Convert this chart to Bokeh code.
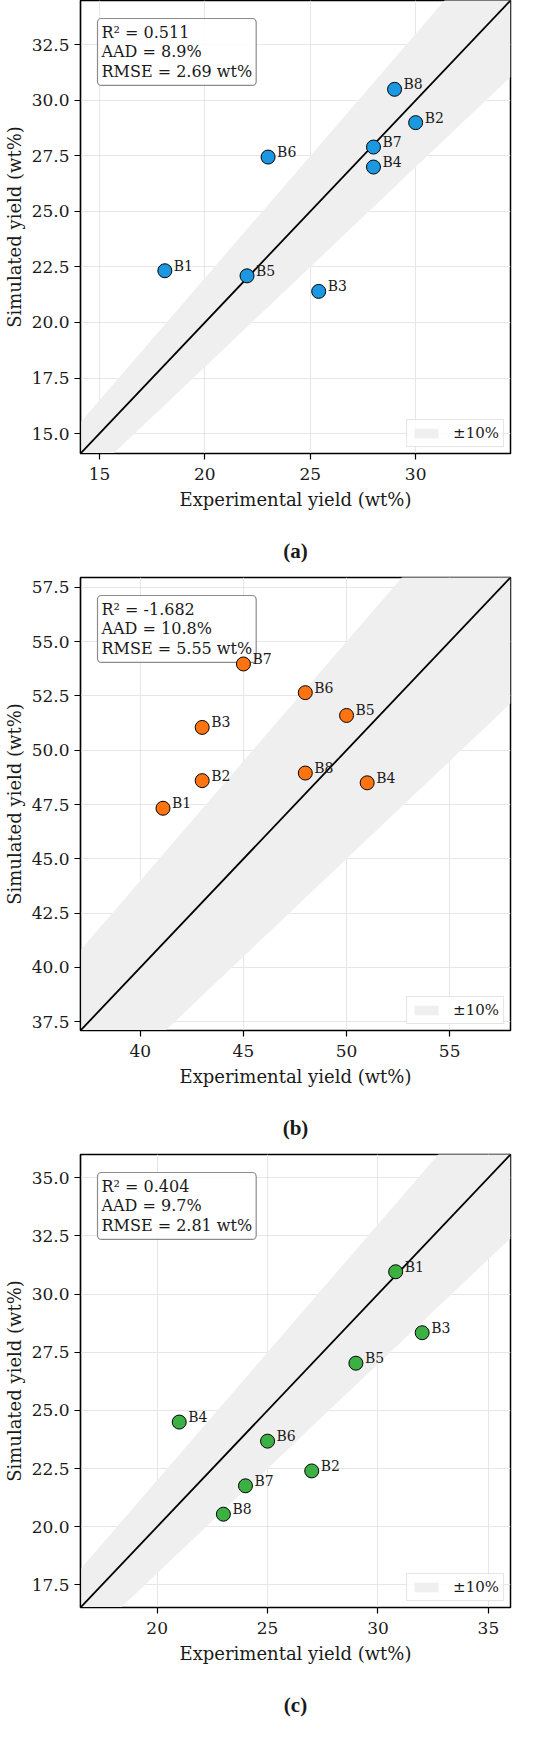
from bokeh.plotting import figure
from bokeh.models import (Range1d, FixedTicker, PrintfTickFormatter, Label, Legend,
                          LegendItem, LinearAxis, ColumnDataSource)
from bokeh.layouts import column
from bokeh.core.properties import value
from bokeh.embed import file_html
from bokeh.resources import INLINE

# ---------------- data ----------------
point_labels = ["B1", "B2", "B3", "B4", "B5", "B6", "B7", "B8"]

a_exp = [18.1, 30.0, 25.4, 28.0, 22.0, 23.0, 28.0, 29.0]
a_sim = [22.33, 29.0, 21.4, 27.0, 22.1, 27.45, 27.9, 30.5]
b_exp = [41.1, 43.0, 43.0, 51.0, 50.0, 48.0, 45.0, 48.0]
b_sim = [47.33, 48.6, 51.05, 48.5, 51.6, 52.65, 53.97, 48.95]
c_exp = [30.8, 27.0, 32.0, 21.0, 29.0, 25.0, 24.0, 23.0]
c_sim = [30.96, 22.4, 28.34, 24.5, 27.03, 23.68, 21.76, 20.54]

a_xticks = [15, 20, 25, 30]
a_yticks = [15.0, 17.5, 20.0, 22.5, 25.0, 27.5, 30.0, 32.5]
b_xticks = [40, 45, 50, 55]
b_yticks = [37.5, 40.0, 42.5, 45.0, 47.5, 50.0, 52.5, 55.0, 57.5]
c_xticks = [20, 25, 30, 35]
c_yticks = [17.5, 20.0, 22.5, 25.0, 27.5, 30.0, 32.5, 35.0]

a_stats = "R\u00b2 = 0.511\nAAD = 8.9%\nRMSE = 2.69 wt%"
b_stats = "R\u00b2 = -1.682\nAAD = 10.8%\nRMSE = 5.55 wt%"
c_stats = "R\u00b2 = 0.404\nAAD = 9.7%\nRMSE = 2.81 wt%"

band_frac = 0.10
band_label = "\u00b110%"
x_title = "Experimental yield (wt%)"
y_title = "Simulated yield (wt%)"

FONT = "DejaVu Serif"
FRAME_W = 430
FRAME_H = 453


def make_panel(exp, sim, color, rng, xticks, yticks, stats, caption, mbt, mbb):
    lo, hi = rng
    p = figure(frame_width=FRAME_W, frame_height=FRAME_H,
               x_range=Range1d(lo, hi), y_range=Range1d(lo, hi),
               output_backend="svg", toolbar_location=None,
               min_border_left=78, min_border_right=26,
               min_border_top=mbt, min_border_bottom=mbb)
    p.background_fill_color = "white"
    p.border_fill_color = "white"
    p.outline_line_color = "black"
    p.outline_line_width = 1.5

    # +-10% band and 1:1 line
    bx = [lo, hi]
    band = p.varea(x=bx, y1=[v * (1 - band_frac) for v in bx],
                   y2=[v * (1 + band_frac) for v in bx],
                   fill_color="#efefef", fill_alpha=1.0)
    p.line(bx, bx, line_color="black", line_width=1.8)

    src = ColumnDataSource(dict(x=exp, y=sim, t=point_labels))
    p.scatter("x", "y", source=src, size=14, fill_color=color,
              line_color="black", line_width=1)
    p.text("x", "y", text="t", source=src, x_offset=9, y_offset=-5,
           text_font=value(FONT), text_font_size="14px",
           text_color="#1a1a1a", text_baseline="alphabetic")

    # axes
    for ax, ticks, fmt in ((p.xaxis[0], xticks, "%d"), (p.yaxis[0], yticks, "%.1f")):
        ax.ticker = FixedTicker(ticks=ticks)
        ax.formatter = PrintfTickFormatter(format=fmt)
        ax.major_label_text_font = FONT
        ax.major_label_text_font_size = "17px"
        ax.major_label_text_color = "#1a1a1a"
        ax.axis_label_text_font = FONT
        ax.axis_label_text_font_size = "18px"
        ax.axis_label_text_font_style = "normal"
        ax.axis_label_text_color = "#1a1a1a"
        ax.major_tick_out = 6
        ax.major_tick_in = 0
        ax.minor_tick_out = 0
        ax.minor_tick_in = 0
        ax.major_tick_line_width = 1.2
        ax.axis_line_width = 1.2
    p.xaxis.axis_label = x_title
    p.yaxis.axis_label = y_title
    p.xaxis.major_label_standoff = 8
    p.yaxis.major_label_standoff = 5
    p.xaxis.axis_label_standoff = 6
    p.yaxis.axis_label_standoff = 4

    p.xgrid.ticker = FixedTicker(ticks=xticks)
    p.ygrid.ticker = FixedTicker(ticks=yticks)
    p.grid.grid_line_color = "#e6e6e6"
    p.grid.grid_line_width = 1

    # caption, as an extra bare axis below the x axis
    cap = LinearAxis(ticker=FixedTicker(ticks=[]), axis_label=caption,
                     axis_line_color=None, major_tick_out=0, major_tick_in=0,
                     minor_tick_out=0, minor_tick_in=0,
                     major_label_text_font_size="0px",
                     axis_label_standoff=26,
                     axis_label_text_font="Liberation Serif",
                     axis_label_text_font_size="21px",
                     axis_label_text_font_style="bold",
                     axis_label_text_color="#1a1a1a")
    p.add_layout(cap, "below")

    # stats box
    ppu_x = FRAME_W / (hi - lo)
    ppu_y = FRAME_H / (hi - lo)
    lab = Label(x=lo + 17 / ppu_x, y=hi - 18 / ppu_y, text=stats,
                anchor="top_left", text_align="left",
                text_font=FONT, text_font_size="16px", text_color="#1a1a1a",
                text_line_height=1.05, padding=4, border_radius=4,
                background_fill_color="white", background_fill_alpha=0.85,
                border_line_color="#8c8c8c", border_line_width=1.2,
                level="underlay")
    p.add_layout(lab)

    leg = Legend(items=[LegendItem(label=band_label, renderers=[band])],
                 location="bottom_right", margin=6, padding=4,
                 glyph_width=30, glyph_height=12, label_standoff=12,
                 label_text_font=FONT, label_text_font_size="15px",
                 label_text_color="#1a1a1a", label_height=14,
                 border_line_color="#cccccc", border_line_width=1,
                 background_fill_alpha=0.85)
    p.add_layout(leg)
    return p


pa = make_panel(a_exp, a_sim, "#1b98e0", (14.1, 34.5), a_xticks, a_yticks,
                a_stats, "(a)", 0, 112)
pb = make_panel(b_exp, b_sim, "#ff7410", (37.1, 57.95), b_xticks, b_yticks,
                b_stats, "(b)", 12, 112)
pc = make_panel(c_exp, c_sim, "#3cb043", (16.53, 36.0), c_xticks, c_yticks,
                c_stats, "(c)", 12, 112)

layout = column(pa, pb, pc)
open("out.html", "w").write(file_html(layout, INLINE))
